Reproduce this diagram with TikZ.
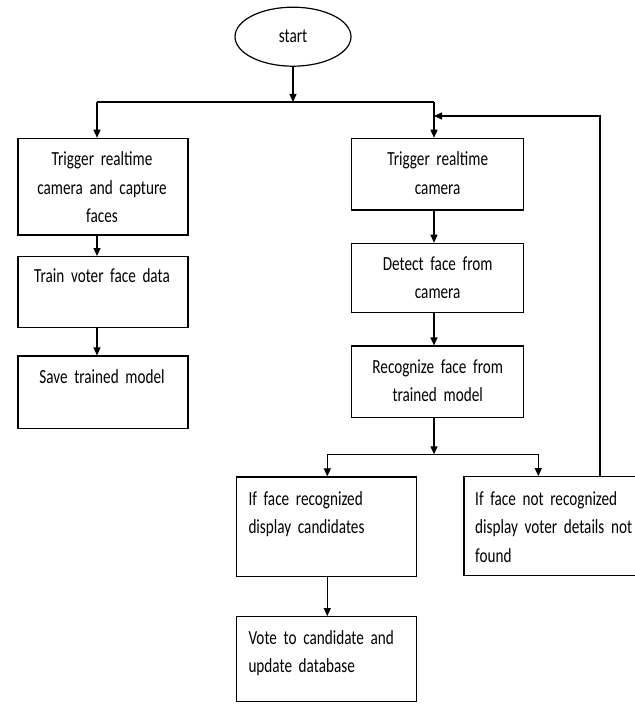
\documentclass[tikz,border=0pt]{standalone}
\usepackage{fontspec}
\setmainfont{Carlito}[FakeStretch=0.76]
\usetikzlibrary{arrows.meta,shapes.geometric}
\newcommand{\boxfont}{\fontsize{20}{28.5}\selectfont\spaceskip=3pt plus 1pt minus 0.5pt\relax}
\begin{document}
\begin{tikzpicture}[x=1pt,y=1pt,
  box/.style={draw, line width=1.2pt, inner sep=0pt},
  ln/.style={line width=1.2pt},
  arr/.style={line width=1.2pt, -{Triangle[length=8pt,width=7pt]}},
  txtc/.style={font=\boxfont, text width=175pt, align=center, anchor=base, inner sep=0pt},
  txtl/.style={font=\boxfont, text width=175pt, align=left, anchor=base west, inner sep=0pt}]
\useasboundingbox (0,0) rectangle (634,-711);
% start
\node[ellipse, draw, line width=1.2pt, minimum width=116pt, minimum height=59pt, inner sep=0pt,
      font=\boxfont] (start) at (293,-36.7) {start};
% boxes
\node[box, minimum width=170pt, minimum height=96.7pt] (l1) at (103,-186.7) {};
\node[box, minimum width=170pt, minimum height=70.6pt] (l2) at (103,-292) {};
\node[box, minimum width=170pt, minimum height=72.3pt] (l3) at (103,-392.2) {};
\node[box, minimum width=171.8pt, minimum height=71.7pt] (r1) at (437.7,-174.2) {};
\node[box, minimum width=171.8pt, minimum height=69.4pt] (r2) at (437.7,-278) {};
\node[box, minimum width=171.8pt, minimum height=71.7pt] (r3) at (437.7,-381.9) {};
\node[box, minimum width=180pt, minimum height=99.7pt] (b1) at (326.7,-526.8) {};
\node[box, minimum width=180pt, minimum height=85pt] (b2) at (326.7,-659.2) {};
\node[box, minimum width=174pt, minimum height=99pt] (b3) at (551,-526.2) {};
% texts
\node[txtc] (t1) at (102,-166) {Trigger realtime\\camera and capture\\faces};
\node[txtc] (t2) at (102,-282) {Train voter face data};
\node[txtc] (t3) at (102,-383) {Save trained model};
\node[txtc] (t4) at (437.7,-166) {Trigger realtime\\camera};
\node[txtc] (t5) at (437.7,-270) {Detect face from\\camera};
\node[txtc] (t6) at (437.7,-373) {Recognize face from\\trained model};
\node[txtl] (t7) at (248.3,-505) {If face recognized\\display candidates};
\node[txtl] (t8) at (248.3,-644) {Vote to candidate and\\update database};
\node[txtl] (t9) at (475,-505) {If face not recognized\\display voter details not\\found};
% junctions
\coordinate (j1) at (start.south |- 0,-102);
\coordinate (jl) at (97,-102);
\coordinate (jr) at (434,-102);
\coordinate (j2) at (434,-454.3);
\coordinate (jb1) at (327.3,-454.3);
\coordinate (jb3) at (538.3,-454.3);
\coordinate (fb) at (434,-116);
\coordinate (fbc) at (600,-116);
% connectors
\draw[arr] (start.south) -- (j1);
\draw[ln] (jl) -- (jr);
\draw[arr] (jl) -- (jl |- l1.north);
\draw[arr] (jr) -- (jr |- r1.north);
\draw[arr] (l1.south -| jl) -- (l2.north -| jl);
\draw[arr] (l2.south -| jl) -- (l3.north -| jl);
\draw[arr] (r1.south -| jr) -- (r2.north -| jr);
\draw[arr] (r2.south -| jr) -- (r3.north -| jr);
\draw[arr] (r3.south -| j2) -- (j2);
\draw[ln] (jb1) -- (jb3);
\draw[arr] (jb1) -- (jb1 |- b1.north);
\draw[arr] (jb3) -- (jb3 |- b3.north);
\draw[arr] (b1.south -| jb1) -- (b2.north -| jb1);
\draw[arr] (b3.north -| fbc) -- (fbc) -- (fb);
\end{tikzpicture}
\end{document}
